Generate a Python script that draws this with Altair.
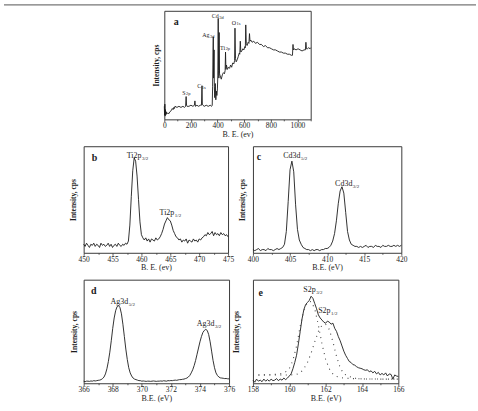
import altair as alt
import pandas as pd

SERIF = "Liberation Serif"
INK = "#1c1c1c"

# ---------------- (a) survey scan ----------------
survey_be = [0, 2, 4, 6, 8, 11, 14, 18, 24, 32,
             42, 52, 60, 66, 72, 76, 80, 95, 110, 125,
             140, 152, 160, 164, 167, 171, 185, 200, 215, 226,
             230, 234, 245, 258, 270, 279, 283, 286, 290, 300,
             315, 330, 345, 355, 360, 363, 366, 368, 370, 372,
             374, 376, 379, 383, 387, 391, 395, 399, 402, 405,
             408, 410, 412, 415, 420, 428, 436, 444, 452, 457,
             460, 463, 467, 474, 482, 490, 498, 506, 514, 522,
             528, 531, 535, 540, 548, 556, 563, 567, 571, 575,
             582, 590, 598, 605, 609, 612, 616, 622, 630, 636,
             640, 644, 650, 660, 672, 685, 700, 715, 730, 745,
             760, 775, 790, 805, 820, 835, 850, 865, 880, 895,
             910, 925, 940, 955, 963, 967, 970, 975, 990, 1005,
             1020, 1035, 1050, 1060, 1064, 1068, 1075, 1085, 1095, 1100]
survey_cps = [12, 4, 14, 3, 9, 4, 7, 5, 6, 5,
              7, 8, 10, 9, 11, 10, 12, 11, 12, 11,
              12, 11, 12, 21, 13, 12, 12, 13, 12, 13,
              17, 12, 13, 12, 13, 13, 31, 14, 13, 12,
              13, 12, 13, 12, 13, 30, 62, 76, 38, 50,
              64, 30, 20, 33, 18, 26, 22, 28, 40, 93,
              45, 38, 80, 42, 40, 37, 41, 43, 42, 45,
              62, 46, 50, 46, 48, 47, 50, 48, 52, 51,
              54, 84, 56, 53, 55, 58, 61, 60, 72, 62,
              63, 65, 64, 67, 66, 87, 70, 68, 71, 70,
              79, 72, 73, 71, 72, 70, 71, 69, 69, 67,
              68, 66, 66, 65, 64, 64, 63, 62, 62, 61,
              61, 60, 60, 59, 59, 69, 64, 65, 64, 65,
              64, 63, 64, 64, 71, 65, 65, 66, 65, 66]
survey_lab_main = ["S", "C", "Ag", "Cd", "Ti", "O"]
survey_lab_sub = ["2p", "1s", "3d", "3d", "2p", "1s"]
survey_lab_be = [159, 277, 339, 409, 457, 539]
survey_lab_cps = [24.5, 30.6, 77.6, 95, 66, 89]

# ---------------- (b) Ti 2p ----------------
ti_start, ti_step = 450.0, 0.25
ti_cps = [8, 6, 9, 7, 5, 8, 7, 9, 6, 8, 7, 5, 9, 7, 8, 6, 7, 9, 6, 8,
          5, 7, 8, 6, 9, 7, 6, 8, 7, 9, 8,
          11, 26, 53, 77, 89, 86, 72, 50, 29, 17, 14,
          12, 14, 11, 13, 10, 13, 12, 11, 14, 12, 13, 15,
          18, 22, 27, 30, 33, 31, 30, 26, 21, 18, 15,
          14, 12, 13, 10, 12, 11, 13, 9, 12, 11, 10, 13, 11, 12, 10, 13, 12, 14,
          15, 17, 16, 19, 17, 18, 20, 16, 19, 17, 18, 16, 19, 17, 18, 16, 17, 15]
ti_lab_main = ["Ti2p", "Ti2p"]
ti_lab_sub = ["3/2", "1/2"]
ti_lab_be = [460.0, 465.7]
ti_lab_cps = [91, 37]

# ---------------- (c) Cd 3d ----------------
cd_start, cd_step = 400.0, 0.25
cd_cps = [3, 2, 3, 4, 2, 3, 3, 2, 4, 3, 3, 2, 3, 4, 3,
          4, 5,
          8, 20, 48, 78, 86, 76, 45, 22, 12, 8, 5,
          4, 3, 3, 2, 3, 2, 3, 3, 2, 3, 3, 4,
          4, 5, 7, 11, 18, 30, 46, 58, 62, 56, 38, 20, 12, 8, 7, 6,
          6, 5, 6, 5, 6, 7, 5, 6, 6, 5, 7, 6, 6, 5, 7, 6, 6, 7, 6, 6, 7, 6, 7, 6, 7]
cd_lab_main = ["Cd3d", "Cd3d"]
cd_lab_sub = ["5/2", "3/2"]
cd_lab_be = [406.4, 413.4]
cd_lab_cps = [91, 65]

# ---------------- (d) Ag 3d ----------------
ag_start, ag_step = 366.0, 0.1
ag_cps = [2, 1.5, 2, 2, 1.8, 2.2, 2, 2.5, 2.2, 2.5, 2.8,
          3, 3.5, 4.5, 6, 9, 14, 21, 30, 41, 53, 63, 70, 74, 75, 73, 67, 57,
          45, 33, 23, 15, 10, 7, 5, 4, 3.5,
          3, 2.5, 2.5, 2, 2.2, 2, 1.8, 2, 2, 1.8, 2, 2.2, 2, 1.8, 2, 2, 2.2,
          2, 2.4, 2.2, 2, 2.5, 2.4, 2.6, 2.5, 2.8, 3, 2.8, 3.2, 3.5, 3.5, 3.8, 4,
          4.5, 5, 6, 7.5, 10, 13, 17, 22, 28, 34, 40, 45, 49, 51, 52, 51, 47,
          40, 31, 22, 15, 10, 7.5, 6, 5.2,
          5, 4.8, 4.5, 4.6, 4.3, 4.2]
ag_lab_main = ["Ag3d", "Ag3d"]
ag_lab_sub = ["5/2", "3/2"]
ag_lab_be = [369.06, 375.0]
ag_lab_cps = [78, 57]

# ---------------- (e) S 2p with fitted components ----------------
s_start, s_step = 158.0, 0.1
s_cps = [3, 1, 4, 2, 3, 1.5, 4, 2, 3.5, 2, 4, 2.5, 3, 4.5, 2.5, 4, 3, 5, 3.5, 5,
         7, 9, 14, 20, 27, 38, 50, 62, 71, 76, 78, 80, 84, 82, 77, 72, 66, 63, 61, 59,
         58, 60, 59, 57, 58, 53, 50, 45, 41, 36, 31, 27, 24, 21, 20, 18, 17.5, 16, 15, 14.5,
         14, 13, 12.5, 13, 11, 12, 10, 11.5, 9, 10.5, 8, 9.5, 8, 10, 7, 9, 8.5, 4, 8, 7, 6.5]
s_fit_be = [158.0, 158.5, 159.0, 159.5, 159.8, 160.0, 160.2, 160.4, 160.6, 160.8,
            161.0, 161.2, 161.4, 161.6, 161.8, 162.0, 162.2, 162.4, 162.6, 162.8,
            163.0, 163.5, 164.0, 165.0, 166.0]
s_fit_32 = [8, 8, 8.2, 9, 11, 14, 22, 36, 55, 70,
            78, 79, 72, 56, 38, 23, 14, 9, 6.5, 5.5,
            5, 4.5, 4.2, 4, 4]
s_fit_12 = [8, 8, 8, 8, 8, 8, 8.2, 8.5, 10, 14,
            20, 29, 40, 50, 56, 57, 52, 40, 26, 15,
            9, 5, 4.2, 4, 4]
s_lab_main = ["S2p", "S2p"]
s_lab_sub = ["3/2", "1/2"]
s_lab_be = [161.45, 162.27]
s_lab_cps = [90, 70]


def grid(start, step, values):
    return [round(start + step * i, 3) for i in range(len(values))]


def panel(spec, width, height):
    xs = alt.Scale(domain=spec["domain"], nice=False, zero=False)
    ys = alt.Scale(domain=[0, 100], nice=False, zero=False)
    major = spec["major"]
    x_enc = alt.X(
        "be:Q", scale=xs, title=spec["xtitle"],
        axis=alt.Axis(
            values=spec["ticks"], format="d",
            labelExpr=f"datum.value % {major} === 0 ? datum.label : ''",
            tickSize={"condition": {"test": f"datum.value % {major} === 0", "value": 2.5},
                      "value": 1.5},
            labelFontSize=7.5, labelPadding=0, labelFlush=False,
            titleFontSize=8, titlePadding=1, titleFontWeight="normal",
        ),
    )
    y_enc = alt.Y(
        "cps:Q", scale=ys, title="Intensity, cps",
        axis=alt.Axis(labels=False, ticks=False, titleFontSize=7.5,
                      titleFontWeight="bold", titlePadding=spec["ypad"]),
    )
    layers = []
    for be, cps in spec["curves"]:
        df = pd.DataFrame({"be": be, "cps": cps})
        layers.append(alt.Chart(df).mark_line(color=INK, strokeWidth=0.9)
                      .encode(x=x_enc, y=y_enc))
    for be, cps in spec.get("fits", []):
        df = pd.DataFrame({"be": be, "cps": cps})
        layers.append(alt.Chart(df).mark_line(color="#444444", strokeWidth=1.1,
                                              strokeDash=[1, 4.5])
                      .encode(x=x_enc, y=y_enc))
    lab = pd.DataFrame({"be": spec["lab_be"], "cps": spec["lab_cps"],
                        "main": spec["lab_main"], "sub": spec["lab_sub"]})
    layers.append(alt.Chart(lab).mark_text(
        align="right", baseline="middle", font=SERIF,
        fontSize=spec["fs_main"], color=INK)
        .encode(x=x_enc, y=y_enc, text="main:N"))
    layers.append(alt.Chart(lab).mark_text(
        align="left", baseline="middle", font=SERIF, dx=0.5,
        dy=spec["sub_dy"], fontSize=spec["fs_sub"], color=INK)
        .encode(x=x_enc, y=y_enc, text="sub:N"))
    let = pd.DataFrame({"be": [spec["letter_be"]], "cps": [spec["letter_cps"]],
                        "t": [spec["letter"]]})
    layers.append(alt.Chart(let).mark_text(
        align="left", baseline="middle", font=SERIF, fontSize=10,
        fontWeight="bold", color=INK)
        .encode(x=x_enc, y=y_enc, text="t:N"))
    for extra in spec.get("extra", []):
        layers.append(extra)
    return alt.layer(*layers).properties(width=width, height=height)


# gray page rule running across the top of the figure
page_rule = alt.Chart(pd.DataFrame({"be": [0]})).mark_rule(
    color="#777777", strokeWidth=1.2).encode(
    x=alt.value(-161), x2=alt.value(313), y=alt.value(-6))

panel_a = panel({
    "domain": [0, 1100], "major": 200,
    "ticks": [0, 100, 200, 300, 400, 500, 600, 700, 800, 900, 1000, 1100],
    "xtitle": "B. E. (ev)", "ypad": 4,
    "curves": [(survey_be, survey_cps)],
    "lab_be": survey_lab_be, "lab_cps": survey_lab_cps,
    "lab_main": survey_lab_main, "lab_sub": survey_lab_sub,
    "fs_main": 6, "fs_sub": 4.5, "sub_dy": 1.5,
    "letter": "a", "letter_be": 70, "letter_cps": 90,
    "extra": [page_rule],
}, 147, 109)

panel_b = panel({
    "domain": [450, 475], "major": 5,
    "ticks": [450, 452.5, 455, 457.5, 460, 462.5, 465, 467.5, 470, 472.5, 475],
    "xtitle": "B. E. (ev)", "ypad": 6,
    "curves": [(grid(ti_start, ti_step, ti_cps), ti_cps)],
    "lab_be": ti_lab_be, "lab_cps": ti_lab_cps,
    "lab_main": ti_lab_main, "lab_sub": ti_lab_sub,
    "fs_main": 8, "fs_sub": 5, "sub_dy": 2,
    "letter": "b", "letter_be": 451.4, "letter_cps": 89,
}, 145, 107)

panel_c = panel({
    "domain": [400, 420], "major": 5,
    "ticks": [400, 402.5, 405, 407.5, 410, 412.5, 415, 417.5, 420],
    "xtitle": "B.E. (eV)", "ypad": 6,
    "curves": [(grid(cd_start, cd_step, cd_cps), cd_cps)],
    "lab_be": cd_lab_be, "lab_cps": cd_lab_cps,
    "lab_main": cd_lab_main, "lab_sub": cd_lab_sub,
    "fs_main": 8, "fs_sub": 5, "sub_dy": 2,
    "letter": "c", "letter_be": 400.5, "letter_cps": 90,
}, 149, 107)

panel_d = panel({
    "domain": [366, 376], "major": 2,
    "ticks": [366, 367, 368, 369, 370, 371, 372, 373, 374, 375, 376],
    "xtitle": "B.E. (eV)", "ypad": 5,
    "curves": [(grid(ag_start, ag_step, ag_cps), ag_cps)],
    "lab_be": ag_lab_be, "lab_cps": ag_lab_cps,
    "lab_main": ag_lab_main, "lab_sub": ag_lab_sub,
    "fs_main": 8, "fs_sub": 5, "sub_dy": 2,
    "letter": "d", "letter_be": 366.5, "letter_cps": 89,
}, 146, 104)

panel_e = panel({
    "domain": [158, 166], "major": 2,
    "ticks": [158, 159, 160, 161, 162, 163, 164, 165, 166],
    "xtitle": "B.E. (eV)", "ypad": 12,
    "curves": [(grid(s_start, s_step, s_cps), s_cps)],
    "fits": [(s_fit_be, s_fit_32), (s_fit_be, s_fit_12)],
    "lab_be": s_lab_be, "lab_cps": s_lab_cps,
    "lab_main": s_lab_main, "lab_sub": s_lab_sub,
    "fs_main": 8, "fs_sub": 5, "sub_dy": 2,
    "letter": "e", "letter_be": 158.3, "letter_cps": 87,
}, 146, 104)

# empty cell that pushes the survey panel to the right in the first row
spacer = alt.Chart(pd.DataFrame({"be": [0]})).mark_point(opacity=0).encode(
    x=alt.value(0), y=alt.value(0)
).properties(width=81, height=1, view=alt.ViewBackground(stroke="transparent"))

top_row = alt.hconcat(spacer, panel_a, spacing=0, bounds="flush")
mid_row = alt.hconcat(panel_b, panel_c, spacing=25, bounds="flush")
bot_row = alt.hconcat(panel_d, panel_e, spacing=24, bounds="flush")

chart = alt.vconcat(top_row, mid_row, bot_row, spacing=6).properties(
    padding={"left": 2, "top": 2, "right": 0, "bottom": 0},
    background="white",
).configure_view(
    stroke="#3a3a3a", strokeWidth=1
).configure_axis(
    labelFont=SERIF, titleFont=SERIF, labelColor=INK, titleColor=INK,
    grid=False, domain=False, tickColor="#333333", tickWidth=0.8,
)

chart.save("out.html", embed_options={"renderer": "svg", "actions": False})
